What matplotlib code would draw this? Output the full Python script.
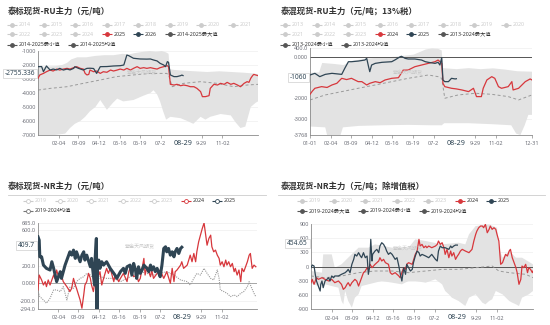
import numpy as np
import matplotlib
matplotlib.use('Agg')
import matplotlib.pyplot as plt
from matplotlib.patches import Rectangle

plt.rcParams['font.family'] = ['Noto Sans', 'Noto Sans CJK SC', 'DejaVu Sans']

W, H = 550, 325
RED = '#d7373c'
NAVY = '#2f4554'
BAND = '#e3e3e3'
MEAN = '#9a9a9a'
INACT = '#cccccc'
TXT = '#333333'
TICK = '#6e7079'
WM = '紫金天风期货'

# ---------------- data ----------------
xtick_days = [34, 67, 101, 135, 169, 203, 271, 305]
xtick_labels = ['02-04', '03-09', '04-12', '05-16', '06-19', '07-2', '9-29', '11-02']
p2_extra_ticks = [0, 364]
p2_extra_labels = ['01-01', '12-31']
hover_day = 240
hover_label = '08-29'

# Panel 1: 泰标现货-RU主力
p1_title = '泰标现货-RU主力（元/吨）'
p1_legend = ['2014', '2015', '2016', '2017', '2018', '2019', '2020', '2021', '2022', '2023', '2024',
             '2025', '2026', '2014-2025最大值', '2014-2025最小值', '2014-2025均值']
p1_days_2026 = [0, 6, 9, 14, 20, 25, 31, 36, 42, 48, 53, 59, 61, 67, 75, 81, 86, 92, 97, 103, 114, 125, 136, 142,
                147, 150, 158, 169, 180, 186, 191, 197, 202, 208, 211, 214, 216, 219, 225, 230, 236, 238, 240]
p1_2026 = [-2120, -2110, -2480, -2070, -2360, -2290, -2350, -2240, -2360, -2290, -2350, -2240, -2120, -2240, -2360,
           -2240, -2230, -2250, -2600, -2120, -2110, -2070, -2050, -2000, -1290, -1330, -1520, -1570, -1580, -1570,
           -1640, -1710, -1880, -2000, -2120, -1760, -1810, -2710, -2830, -2830, -2760, -2720, -2755]
p1_days_2025 = [0, 3, 9, 14, 20, 25, 31, 36, 42, 48, 53, 59, 64, 70, 75, 78, 81, 84, 86, 92, 97, 103, 108, 114, 120,
                125, 131, 136, 142, 147, 153, 158, 164, 169, 175, 180, 186, 191, 197, 202, 208, 214, 216, 219, 225,
                230, 236, 241, 247, 252, 258, 263, 269, 272, 277, 283, 285, 291, 297, 302, 308, 313, 319, 324, 330,
                335, 341, 346, 349, 352, 355, 357, 360, 364]
p1_2025 = [-2950, -2710, -2600, -2480, -2360, -2430, -2290, -2360, -2290, -2240,
           -2290, -2190, -2120, -2240, -2290, -2600, -2710, -2670, -2360, -2480,
           -2430, -2600, -2480, -2520, -2360, -2430, -2360, -2290, -2360, -2240,
           -2360, -2240, -2120, -2240, -2190, -2240, -2190, -2240, -2290, -2190,
           -2120, -2050, -2120, -3380, -3430, -3380, -3480, -3430, -3480, -3550,
           -3550, -3670, -3900, -4260, -4260, -4190, -3670, -3380, -3430, -3310,
           -3380, -3240, -3380, -3310, -3430, -3550, -3310, -3190, -3240, -2950,
           -2760, -2670, -2710, -2760]
p1_max_days = [0, 10, 20, 30, 40, 48, 55, 65, 80, 95, 110, 125, 140, 150, 160, 175, 185, 195, 205, 212, 216, 218,
               225, 240, 260, 280, 300, 320, 340, 355, 364]
p1_max = [-2150, -2120, -2100, -2080, -2000, -1850, -1600, -1450, -1450, -1350, -1300, -1300, -1200, -1250, -1150,
          -1050, -1000, -1050, -1000, -1100, -1200, -2300, -2350, -2400, -2450, -2500, -2450, -2500, -2550, -2600,
          -2650]
p1_min_days = [0, 28, 45, 53, 61, 70, 78, 86, 95, 103, 114, 124, 131, 141, 158, 174, 186, 191, 197, 202, 207, 212,
               219, 236, 247, 257, 269, 277, 285, 302, 319, 327, 335, 343, 352, 360, 364]
p1_min = [-7000, -7000, -6900, -6500, -6200, -6000, -5700, -5300, -5000, -4500, -5200, -4700, -4400, -4600, -4500,
          -4200, -4000, -3800, -4100, -4600, -5300, -5900, -5700, -5800, -6000, -6200, -5700, -5900, -5700, -5500,
          -5600, -6100, -6500, -6400, -5000, -4700, -4600]
p1_mean_days = [0, 20, 48, 75, 103, 130, 158, 186, 213, 216, 222, 241, 269, 296, 324, 346, 364]
p1_mean = [-3790, -3670, -3550, -3310, -3070, -2830, -2710, -2600, -2600, -2710, -3550, -3310, -3190, -3310, -3550,
           -3430, -3380]
p1_yticks = [-1000, -2000, -3000, -4000, -5000, -6000, -7000]
p1_hover = -2755.336

# Panel 2: 泰混现货-RU主力
p2_title = '泰混现货-RU主力（元/吨；13%税）'
p2_legend = ['2013', '2014', '2015', '2016', '2017', '2018', '2019', '2020', '2021', '2022', '2023',
             '2024', '2025', '2013-2024最大值', '2013-2024最小值', '2013-2024均值']
p2_days_2025 = [0, 8, 16, 25, 36, 52, 57, 63, 68, 79, 90, 93, 96, 98, 101, 107, 118, 134, 139, 148, 150, 156, 161,
                172, 183, 189, 194, 205, 210, 213, 216, 218, 221, 227, 232, 238, 240]
p2_2025 = [-880, -800, -960, -850, -800, -850, -560, -240, -240, -210, -160, -80, -480, -720, -400, -320, -270, -240,
           -160, 0, 20, -80, -110, -110, -160, -240, -270, -320, -270, -400, -50, -1120, -1200, -1200, -1040, -1070,
           -1060]
p2_days_2024 = [0, 4, 8, 19, 28, 36, 44, 52, 60, 68, 79, 85, 93, 98, 107, 115, 123, 134, 145, 153, 161, 172, 183,
                194, 205, 210, 216, 218, 221, 232, 240, 249, 260, 268, 273, 281, 284, 290, 298, 303, 309, 314, 325,
                331, 333, 342, 353, 361, 364]
p2_2024 = [-1810, -1650, -1520, -1440, -1480, -1360, -1280, -1040, -1100, -1040, -1200, -1200, -1360, -1280, -1200,
           -1250, -1120, -1040, -1010, -640, -640, -480, -400, -320, -240, -160, -320, -1280, -1440, -1520, -1550,
           -1600, -1680, -1520, -1920, -1920, -1520, -1120, -960, -1040, -1440, -1520, -1440, -1200, -1600, -1520,
           -1200, -1070, -1120]
p2_mean_days = [0, 25, 52, 79, 107, 134, 161, 194, 210, 216, 221, 243, 271, 298, 325, 342, 364]
p2_mean = [-2080, -1840, -1680, -1520, -1360, -1200, -1040, -880, -960, -1040, -2000, -1840, -1760, -1810, -1920,
           -2080, -1840]
p2_max_days = [0, 15, 20, 40, 55, 70, 90, 110, 140, 170, 190, 200, 210, 216, 218, 240, 260, 280, 300, 320, 340, 364]
p2_max = [-780, -750, -300, -350, -400, -200, -100, -50, 0, 100, 350, 400, 380, 300, -550, -600, -550, -600, -560,
          -620, -700, -720]
p2_min_days = [0, 25, 28, 50, 54, 80, 120, 160, 200, 216, 220, 260, 300, 330, 338, 345, 352, 358, 364]
p2_min = [-3360, -3400, -3768, -3768, -3400, -3330, -3300, -3280, -3300, -3300, -3200, -3200, -3250, -3300, -3700,
          -3768, -3300, -2800, -2800]
p2_yticks = [400, 0, -2000, -3000, -3768]
p2_ytick_labels = ['400.0', '0.000', '-2000', '-3000', '-3768']
p2_hover = -1060

# Panel 3: 泰标现货-NR主力
p3_title = '泰标现货-NR主力（元/吨）'
p3_legend = ['2019', '2020', '2021', '2022', '2023', '2024', '2025', '2019-2024均值']
p3_days_2025 = [0, 2, 3, 6, 9, 14, 20, 23, 26, 31, 37, 39, 45, 51, 53, 56, 59, 62, 64, 70, 73, 76, 78, 81, 87, 89,
                92, 94, 95, 97, 98, 99, 101, 103, 106, 109, 114, 120, 126, 128, 131, 137, 142, 145, 148, 153, 156,
                159, 162, 164, 167, 170, 173, 176, 181, 184, 187, 189, 192, 195, 198, 201, 203, 206, 209, 212, 214,
                217, 220, 223, 226, 228, 231, 234, 237, 239]
p3_2025 = [528, 490, 301, 301, 207, 170, 151, 245, 170, 19,
           132, 56, 207, 320, 358, 320, 377, 283, 358, 245,
           320, 358, 264, 320, 188, 283, 94, -19, 283, 509,
           -294, 207, 264, 170, 245, 207, 245, 170, 113, 94,
           56, 132, 170, 113, 188, 207, 94, 226, 151, 56,
           188, 113, 151, 207, 170, 132, 207, 151, 188, 132,
           170, 113, 75, 207, 396, 415, 358, 396, 320, 358,
           301, 358, 396, 339, 396, 409.7]
p3_days_2024 = [0, 2, 6, 9, 12, 14, 17, 20, 26, 28, 31, 34, 37, 42, 48, 53, 56, 59, 62, 64, 70, 73, 76, 78, 81, 84,
                87, 89, 92, 95, 98, 101, 103, 106, 109, 114, 117, 120, 126, 128, 131, 134, 137, 142, 148, 151, 153,
                159, 164, 167, 170, 173, 176, 178, 181, 187, 189, 192, 198, 203, 209, 214, 220, 223, 226, 228, 231,
                237, 239, 242, 248, 253, 256, 259, 262, 264, 267, 270, 273, 276, 278, 281, 284, 287, 289, 292, 295,
                298, 301, 303, 306, 309, 312, 314, 317, 320, 323, 326, 328, 331, 334, 337, 339, 342, 345, 348, 351,
                353, 356, 359, 362]
p3_2024 = [-75, 94, 38, -19, 19, -38, 38, -19, 94, 56,
           151, 75, 132, 19, -38, -94, -57, 56, -19, -57,
           -189, -283, -132, -19, 19, 113, 56, -19, -94, 38,
           19, 94, 132, -19, 56, 170, 113, 170, 19, 94,
           75, 19, 56, 113, 19, 132, 170, 75, 94, 19,
           56, 170, 283, 94, 188, 75, 151, 56, 113, 151,
           56, 132, 0, 170, 19, 132, 151, 207, 245, 170,
           207, 320, 245, 339, 245, 358, 471, 547, 622, 685,
           584, 433, 509, 547, 415, 358, 377, 320, 283, 207,
           245, 188, 264, 207, 245, 188, 226, 132, 170, 94,
           151, 19, 170, 132, 188, 245, 320, 339, 170, 207,
           188]
p3_mean_days = [0, 3, 9, 14, 20, 26, 31, 37, 42, 48, 53, 59, 64, 70, 76, 81, 87, 92, 98, 103, 114, 126, 137, 148,
                159, 170, 181, 192, 203, 214, 226, 237, 248, 253, 259, 264, 270, 276, 281, 287, 292, 298, 301, 303,
                309, 314, 320, 326, 331, 337, 342, 348, 351, 353, 359, 362]
p3_mean = [-94, -151, -189, -226, -170, -75, -75, -94, -38, -189,
           -38, -57, 19, 56, 75, 113, 94, 56, 19, 75,
           56, 56, 19, 56, 94, 132, 113, 94, 113, 132,
           94, 38, 19, -19, 56, 113, 94, 170, 113, 56,
           38, 151, 56, -75, -94, -113, -151, -132, -151, -113,
           -94, -38, 19, -19, -113, -151]
p3_yticks = [685, 600, 200, 0, -200, -294]
p3_ytick_labels = ['685.0', '600.0', '200.0', '0.000', '-200.0', '-294.0']
p3_hover = 409.7

# Panel 4: 泰混现货-NR主力
p4_title = '泰混现货-NR主力（元/吨；除增值税）'
p4_legend = ['2019', '2020', '2021', '2022', '2023', '2024', '2025',
             '2019-2024最大值', '2019-2024最小值', '2019-2024均值']
p4_days_2025 = [0, 2, 5, 7, 9, 12, 15, 16, 18, 20, 23, 26, 29, 31, 34, 37, 39, 45, 50, 56, 59, 61, 64, 67, 70, 72,
                75, 78, 81, 83, 86, 89, 92, 94, 96, 98, 100, 101, 105, 108, 111, 113, 116, 119, 122, 124, 127, 130,
                133, 138, 141, 144, 146, 149, 152, 155, 157, 160, 163, 166, 168, 171, 174, 177, 179, 182, 188, 193,
                198, 204, 207, 209, 212, 215, 220, 226, 229, 231, 234, 237, 240]
p4_2025 = [-22, 34, 13, -162, -303, -409, -514, -373, -303, -444, -303, -268, -233, -303, -197, -233, -197, -197,
           -162, -127, -92, -57, -127, 49, 154, 259, 224, 295, 224, 189, 295, 189, 224, -162, -22, 576, 119, 259,
           330, 365, 295, 435, 505, 470, 400, 330, 259, 295, 259, 154, 189, 13, -127, -303, -22, -162, 49, -22,
           -92, -57, 84, 224, 330, 295, 224, 259, 224, 189, 259, 154, 119, 330, 435, 400, 400, 365, 435, 400, 435,
           456, 454.65]
p4_days_2024 = [0, 2, 5, 9, 12, 18, 23, 29, 34, 39, 45, 50, 53, 56, 59, 61, 64, 67, 72, 75, 78, 81, 83, 86, 89, 92,
                94, 97, 100, 105, 108, 111, 113, 116, 119, 122, 127, 130, 133, 138, 141, 144, 146, 149, 152, 155,
                157, 160, 166, 171, 174, 177, 179, 182, 185, 188, 190, 193, 198, 204, 207, 209, 212, 215, 218, 220,
                223, 226, 229, 231, 234, 237, 240, 242, 245, 248, 253, 259, 264, 267, 270, 272, 275, 278, 281, 283,
                286, 289, 292, 294, 297, 300, 303, 305, 308, 311, 314, 316, 319, 322, 325, 327, 330, 333, 336, 338,
                341, 344, 346, 349, 352, 355, 357, 360, 363, 364]
p4_2024 = [-338, -268, -373, -233, -268, -233, -268, -303, -268, -338,
           -303, -373, -479, -444, -373, -338, -409, -338, -268, -303,
           -409, -303, -233, -127, -92, -22, -57, 49, -22, 49,
           84, 119, 189, 119, 154, 84, 49, -127, -162, -127,
           -162, -197, -233, -127, -22, -57, 49, 84, 49, 259,
           330, 576, 435, 470, 400, 435, 400, 435, 400, 435,
           470, 541, 470, 505, 400, 259, 365, 189, 330, 224,
           295, 154, 224, 259, 330, 365, 330, 295, 365, 541,
           681, 752, 822, 857, 857, 822, 892, 716, 787, 857,
           787, 822, 787, 681, 541, 49, 84, 154, 259, 224,
           330, 365, 189, 84, -22, -127, -373, -268, 13, -22,
           49, -127, -22, -57, -127, -92]
p4_mean_days = [0, 23, 50, 78, 105, 133, 160, 188, 215, 242, 270, 297, 308, 325, 352, 364]
p4_mean = [-197, -233, -197, -127, -92, -92, -127, -92, -57, -57, -22, 13, -92, -127, -162, -233]
p4_max_days = [0, 18, 20, 34, 39, 50, 61, 78, 94, 105, 133, 160, 171, 188, 215, 242, 253, 259, 270, 292, 305, 308,
               314, 325, 336, 346, 364]
p4_max = [-92, -127, 259, 259, -22, 49, 189, 400, 400, 470, 400, 400, 576, 541, 470, 505, 470, 681, 857, 892, 822,
          400, 189, 330, 189, 189, 49]
p4_min_days = [0, 12, 23, 34, 45, 50, 53, 56, 61, 67, 72, 78, 83, 94, 105, 116, 133, 149, 160, 171, 188, 204, 215,
               220, 226, 231, 242, 253, 259, 270, 281, 286, 292, 297, 303, 314, 325, 330, 336, 341, 346, 357, 364]
p4_min = [-350, -409, -373, -409, -444, -725, -795, -514, -725, -865, -655, -584, -409, -373, -338, -303, -338,
          -373, -303, -303, -338, -268, -373, -514, -584, -655, -725, -830, -655, -584, -760, -795, -725, -690,
          -514, -584, -725, -760, -795, -830, -655, -584, -514]
p4_yticks = [900, 600, 300, 0, -300, -600, -900]
p4_hover = 454.65

# ---------------- figure ----------------
fig = plt.figure(figsize=(W / 100, H / 100), dpi=100)
fig.patch.set_facecolor('white')


def px_axes(l, t, r, b):
    return fig.add_axes([l / W, 1 - b / H, (r - l) / W, (b - t) / H])


ov = fig.add_axes([0, 0, 1, 1], zorder=20)
ov.set_xlim(0, W)
ov.set_ylim(H, 0)
ov.axis('off')
ov.patch.set_alpha(0)
renderer = fig.canvas.get_renderer()


def to_ov(ax, x, y):
    d = ax.transData.transform((x, y))
    return ov.transData.inverted().transform(d)


def style_axes(ax, ylim, yticks, ylabels, extra_x=None):
    ax.set_xlim(0, 364)
    ax.set_ylim(*ylim)
    for s in ['top', 'right']:
        ax.spines[s].set_visible(False)
    for s in ['left', 'bottom']:
        ax.spines[s].set_color('#8a8a8a')
        ax.spines[s].set_linewidth(0.6)
    ax.set_yticks(yticks)
    ax.set_yticklabels(ylabels, fontsize=4.0, color=TICK)
    xt = list(xtick_days)
    xl = list(xtick_labels)
    if extra_x:
        xt = [extra_x[0][0]] + xt + [extra_x[0][1]]
        xl = [extra_x[1][0]] + xl + [extra_x[1][1]]
    ax.set_xticks(xt)
    ax.set_xticklabels(xl, fontsize=4.0, color=TICK)
    ax.tick_params(axis='y', length=0, pad=1.5)
    ax.tick_params(axis='x', length=2, width=0.5, color='#8a8a8a', pad=2.5)
    for v in yticks:
        ax.axhline(v, color='#eeeeee', lw=0.5, zorder=0)


def band(ax, dmax, vmax, dmin, vmin):
    xs = list(dmax) + list(dmin)[::-1]
    ys = list(vmax) + list(vmin)[::-1]
    ax.fill(xs, ys, color=BAND, lw=0, zorder=1)


def title(x, y, s):
    ov.text(x, y, s, fontsize=6, fontweight='bold', color=TXT, va='center', ha='left',
            family=['Noto Sans CJK SC', 'DejaVu Sans'])


def legend(items, x0, rows_y, xmax, hollow=False, fs=3.8):
    x = x0
    row = 0
    for label, mcol, tcol in items:
        t = ov.text(0, 0, label, fontsize=fs, color=tcol, va='center', ha='left',
                    family=['Noto Sans', 'Noto Sans CJK SC'])
        w = t.get_window_extent(renderer).width
        if x + 12 + w > xmax and x > x0:
            row += 1
            x = x0
        y = rows_y[row]
        t.set_position((x + 12, y))
        ov.plot([x, x + 10], [y, y], color=mcol, lw=0.8, solid_capstyle='butt')
        ov.plot([x + 5], [y], marker='o', ms=2.8, mfc='white' if hollow else mcol, mec=mcol, mew=0.6)
        x = x + 12 + w + 7.5


def hover_y(ax, val, text, dy=0.0):
    x0, y0 = to_ov(ax, 0, val)
    y0 = y0 + dy
    t = ov.text(x0 - 3, y0, text, fontsize=4.8, fontweight='bold', color=NAVY, va='center', ha='right', zorder=5)
    bb = t.get_window_extent(renderer)
    wpx, hpx = bb.width, bb.height
    ov.add_patch(Rectangle((x0 - 3 - wpx - 2, y0 - hpx / 2 - 0.8), wpx + 4, hpx + 1.6, fc='white', ec='#cfcfcf',
                           lw=0.5, zorder=4))


def hover_x(ax, day, text, ylab):
    xc, yb = to_ov(ax, day, ax.get_ylim()[0])
    ov.text(xc, yb + ylab, text, fontsize=5.2, fontweight='bold', color=NAVY, va='center', ha='center', zorder=5)


# ---- Panel 1 ----
ax1 = px_axes(38, 51, 258, 135)
style_axes(ax1, (-7000, -1000), p1_yticks, [str(v) for v in p1_yticks])
band(ax1, p1_max_days, p1_max, p1_min_days, p1_min)
ax1.plot(p1_mean_days, p1_mean, color=MEAN, lw=0.7, ls=(0, (3, 2.5)), zorder=2)
ax1.plot(p1_days_2025, p1_2025, color=RED, lw=0.9, zorder=3)
ax1.plot(p1_days_2026, p1_2026, color=NAVY, lw=0.9, zorder=4)
ov.text(142, 72, WM, fontsize=3.6, color='#c8c8c8', ha='center', va='center', zorder=1)

# ---- Panel 2 ----
ax2 = px_axes(310, 48.4, 532, 135)
style_axes(ax2, (-3768, 400), p2_yticks, p2_ytick_labels, extra_x=(p2_extra_ticks, p2_extra_labels))
band(ax2, p2_max_days, p2_max, p2_min_days, p2_min)
ax2.axhline(0, color='#555555', lw=0.7, zorder=2)
ax2.plot(p2_mean_days, p2_mean, color=MEAN, lw=0.7, ls=(0, (3, 2.5)), zorder=2)
ax2.plot(p2_days_2024, p2_2024, color=RED, lw=0.9, zorder=3)
ax2.plot(p2_days_2025, p2_2025, color=NAVY, lw=0.9, zorder=4)
ov.text(408, 72, WM, fontsize=3.6, color='#c8c8c8', ha='center', va='center', zorder=1)

# ---- Panel 3 ----
ax3 = px_axes(38, 223, 257, 309.2)
style_axes(ax3, (-294, 685), p3_yticks, p3_ytick_labels)
ax3.axhline(0, color='#9a9a9a', lw=0.6, zorder=2)
ax3.plot(p3_mean_days, p3_mean, color=MEAN, lw=0.8, ls=(0, (1, 1)), zorder=2)
ax3.plot(p3_days_2024, p3_2024, color=RED, lw=0.9, zorder=3)
ax3.plot(p3_days_2025, p3_2025, color=NAVY, lw=2.2, zorder=4)
ov.text(140, 246, WM, fontsize=3.6, color='#c8c8c8', ha='center', va='center', zorder=1)

# ---- Panel 4 ----
ax4 = px_axes(311, 224, 533, 309.3)
style_axes(ax4, (-900, 900), p4_yticks, [str(v) for v in p4_yticks])
band(ax4, p4_max_days, p4_max, p4_min_days, p4_min)
ax4.axhline(0, color='#555555', lw=0.7, zorder=2)
ax4.plot(p4_mean_days, p4_mean, color=MEAN, lw=0.7, ls=(0, (3, 2.5)), zorder=2)
ax4.plot(p4_days_2024, p4_2024, color=RED, lw=0.9, zorder=3)
ax4.plot(p4_days_2025, p4_2025, color=NAVY, lw=0.9, zorder=4)
ov.text(408, 248, WM, fontsize=3.6, color='#c8c8c8', ha='center', va='center', zorder=1)

# ---- titles ----
title(8, 12, p1_title)
title(281, 12, p2_title)
title(8, 187, p3_title)
title(281, 187, p4_title)
ov.plot([8, 266], [194.5, 194.5], color='#cccccc', lw=0.6)
ov.plot([278, 545], [194.5, 194.5], color='#cccccc', lw=0.6)


def items_for(labels, n_inactive, act_cols):
    out = []
    for i, lab in enumerate(labels):
        if i < n_inactive:
            out.append((lab, INACT, INACT))
        else:
            out.append((lab, act_cols[i - n_inactive], TXT))
    return out


legend(items_for(p1_legend, 11, [RED, NAVY, '#555555', '#555555', '#555555']), 7, [25, 34.3, 44.5], 268)
legend(items_for(p2_legend, 11, [RED, NAVY, '#555555', '#555555', '#555555']), 280, [25, 34.3, 44.5], 545)
legend(items_for(p3_legend, 5, [RED, NAVY, '#777777']), 23, [200.5, 210.7], 265, hollow=True)
legend(items_for(p4_legend, 5, [RED, NAVY, '#555555', '#555555', '#555555']), 297, [200.5, 211], 545)

# ---- axis pointer labels ----
hover_y(ax1, p1_hover, f'{p1_hover:.3f}', dy=-2.3)
hover_y(ax2, p2_hover, str(p2_hover), dy=-1.5)
hover_y(ax3, p3_hover, f'{p3_hover:.1f}', dy=-2.0)
hover_y(ax4, p4_hover, f'{p4_hover:.2f}', dy=-1.5)
for ax in (ax1, ax2, ax3, ax4):
    hover_x(ax, hover_day, hover_label, 8.5)

fig.savefig('out.png', dpi=100, facecolor='white')
